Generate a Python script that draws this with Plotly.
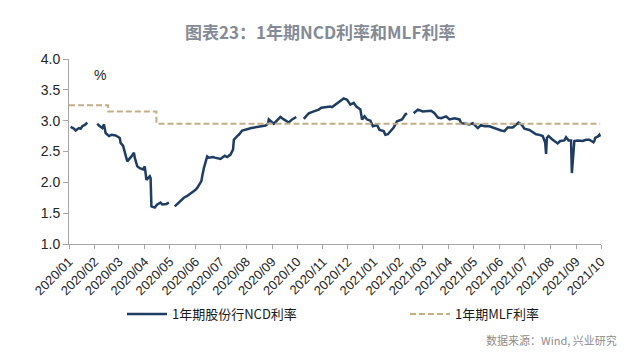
import plotly.graph_objects as go

# ---------------- data ----------------
ncd_dates = [
    "2020-01-03", "2020-01-07", "2020-01-09", "2020-01-13", "2020-01-15", "2020-01-17", "2020-01-20",
    "2020-01-21", "2020-01-23", "2020-01-28",
    "2020-02-04", "2020-02-06", "2020-02-10", "2020-02-12", "2020-02-14", "2020-02-18", "2020-02-21",
    "2020-02-26", "2020-03-02", "2020-03-03", "2020-03-06", "2020-03-09", "2020-03-11", "2020-03-16",
    "2020-03-19", "2020-03-20", "2020-03-23", "2020-03-26", "2020-03-30", "2020-04-01", "2020-04-03",
    "2020-04-07", "2020-04-08", "2020-04-09", "2020-04-13", "2020-04-16", "2020-04-20", "2020-04-22",
    "2020-04-27", "2020-04-30", "2020-05-03",
    "2020-05-07", "2020-05-13", "2020-05-18", "2020-05-22", "2020-05-25", "2020-05-28", "2020-06-01",
    "2020-06-03", "2020-06-05", "2020-06-08", "2020-06-09", "2020-06-11", "2020-06-15", "2020-06-17",
    "2020-06-22", "2020-06-24", "2020-07-01", "2020-07-06", "2020-07-09", "2020-07-13", "2020-07-16",
    "2020-07-17", "2020-07-21", "2020-07-23", "2020-07-27", "2020-07-31", "2020-08-04", "2020-08-07",
    "2020-08-14", "2020-08-20", "2020-08-24", "2020-08-27", "2020-08-28", "2020-09-03", "2020-09-07",
    "2020-09-11", "2020-09-15", "2020-09-21", "2020-09-25", "2020-09-30", "2020-10-04",
    "2020-10-09", "2020-10-15", "2020-10-21", "2020-10-27", "2020-10-30", "2020-11-05", "2020-11-10",
    "2020-11-12", "2020-11-16", "2020-11-20", "2020-11-26", "2020-11-30", "2020-12-04", "2020-12-08",
    "2020-12-11", "2020-12-16", "2020-12-18", "2020-12-21", "2020-12-24", "2020-12-28", "2020-12-31",
    "2021-01-05", "2021-01-08", "2021-01-13", "2021-01-15", "2021-01-18", "2021-01-21", "2021-01-25",
    "2021-01-29", "2021-02-04", "2021-02-08", "2021-02-10", "2021-02-14",
    "2021-02-18", "2021-02-23", "2021-03-01", "2021-03-05", "2021-03-11", "2021-03-15", "2021-03-19",
    "2021-03-23", "2021-03-29", "2021-04-02", "2021-04-08", "2021-04-14", "2021-04-16", "2021-04-22",
    "2021-04-26", "2021-04-30", "2021-05-06", "2021-05-10", "2021-05-14", "2021-05-20", "2021-05-26",
    "2021-05-31", "2021-06-03", "2021-06-07", "2021-06-11", "2021-06-17", "2021-06-21", "2021-06-24",
    "2021-06-28", "2021-07-01", "2021-07-07", "2021-07-12", "2021-07-15", "2021-07-19", "2021-07-23",
    "2021-07-26", "2021-07-27", "2021-07-28", "2021-07-30", "2021-08-04", "2021-08-10", "2021-08-13",
    "2021-08-18", "2021-08-20", "2021-08-23", "2021-08-26", "2021-08-27", "2021-08-30", "2021-09-03",
    "2021-09-09", "2021-09-13", "2021-09-17", "2021-09-22", "2021-09-23", "2021-09-24", "2021-09-27",
    "2021-09-29", "2021-09-30",
]
ncd_values = [
    2.90, 2.87, 2.84, 2.88, 2.87, 2.91, 2.93,
    2.94, 2.97, None,
    2.95, 2.92, 2.88, 2.94, 2.80, 2.75, 2.77,
    2.76, 2.72, 2.64, 2.59, 2.45, 2.34, 2.42,
    2.48, 2.40, 2.26, 2.23, 2.21, 2.26, 2.04,
    2.10, 2.07, 1.61, 1.59, 1.64, 1.67, 1.64,
    1.65, 1.67, None,
    1.61, 1.69, 1.75, 1.78, 1.81, 1.83, 1.88,
    1.91, 1.95, 2.02, 2.10, 2.23, 2.42, 2.40,
    2.41, 2.40, 2.38, 2.43, 2.41, 2.45, 2.53,
    2.69, 2.75, 2.77, 2.84, 2.85, 2.87, 2.88,
    2.90, 2.91, 2.92, 2.95, 3.02, 2.95, 3.00,
    3.06, 3.02, 2.97, 3.02, 3.06, None,
    3.03, 3.12, 3.15, 3.18, 3.21, 3.22, 3.23,
    3.22, 3.26, 3.29, 3.36, 3.34, 3.26, 3.29,
    3.23, 3.18, 3.02, 3.07, 3.02, 3.00, 2.91,
    2.93, 2.85, 2.83, 2.77, 2.78, 2.83, 2.89,
    2.99, 3.02, 3.10, 3.12, None,
    3.12, 3.18, 3.15, 3.15, 3.16, 3.12, 3.05,
    3.04, 3.07, 3.02, 3.04, 3.02, 2.96, 2.95,
    2.94, 2.96, 2.88, 2.93, 2.91, 2.91, 2.88,
    2.85, 2.84, 2.83, 2.89, 2.89, 2.93, 2.97,
    2.93, 2.87, 2.85, 2.80, 2.78, 2.77, 2.75,
    2.64, 2.46, 2.72, 2.75, 2.69, 2.63, 2.67,
    2.68, 2.73, 2.68, 2.68, 2.15, 2.67, 2.68,
    2.67, 2.69, 2.69, 2.65, 2.67, 2.72, 2.74,
    2.77, 2.74,
]

mlf_dates = ["2020-01-01", "2020-02-17", "2020-04-15", "2021-09-30"]
mlf_values = [3.25, 3.15, 2.95, 2.95]

tick_dates = [f"{y}-{m:02d}-01" for y, m in
              [(2020, m) for m in range(1, 13)] + [(2021, m) for m in range(1, 11)]]
tick_labels = [f"{d[:4]}/{d[5:7]}" for d in tick_dates]

y_ticks = [1.0, 1.5, 2.0, 2.5, 3.0, 3.5, 4.0]

title_text = "图表23：1年期NCD利率和MLF利率"
ncd_name = "1年期股份行NCD利率"
mlf_name = "1年期MLF利率"
source_text = "数据来源：Wind, 兴业研究"

# ---------------- figure ----------------
PL, PR, PT, PB = 69, 601, 59, 244   # plot area in pixels
PW, PH = PR - PL, PB - PT

fig = go.Figure()
fig.add_trace(go.Scatter(
    x=ncd_dates, y=ncd_values, name=ncd_name, mode="lines",
    line=dict(color="#1f3d63", width=2.5), connectgaps=False, legend="legend",
))
fig.add_trace(go.Scatter(
    x=mlf_dates, y=mlf_values, name=mlf_name, mode="lines",
    line=dict(color="#c4ae88", width=2, dash="6px,3px", shape="hv"), legend="legend2",
))

legend_font = dict(size=13, family="Noto Sans CJK SC", color="#1a1a1a")
axis_col = "#a6a6a6"
fig.update_layout(
    width=640, height=352,
    margin=dict(l=PL, r=640 - PR, t=PT, b=352 - PB, autoexpand=False),
    paper_bgcolor="white", plot_bgcolor="white",
    font=dict(family="Liberation Sans, Noto Sans CJK SC", color="#262626"),
    showlegend=True,
    legend=dict(
        orientation="h", x=(122 - PL) / PW, y=(PB - 299) / PH, xanchor="left", yanchor="top",
        font=legend_font, itemwidth=40, bgcolor="rgba(0,0,0,0)",
    ),
    legend2=dict(
        orientation="h", x=(405 - PL) / PW, y=(PB - 299) / PH, xanchor="left", yanchor="top",
        font=legend_font, itemwidth=40, bgcolor="rgba(0,0,0,0)",
    ),
    xaxis=dict(
        type="date", range=["2020-01-01", "2021-10-01"], automargin=False,
        tickvals=tick_dates, ticktext=tick_labels, tickangle=-45,
        tickfont=dict(size=13, family="Liberation Sans", color="#262626"),
        showline=True, linecolor=axis_col, linewidth=1,
        ticks="outside", ticklen=4, tickcolor=axis_col,
        showgrid=False, zeroline=False,
    ),
    yaxis=dict(
        range=[1.0, 4.0], tickvals=y_ticks, tickformat=".1f", automargin=False,
        tickfont=dict(size=14, family="Liberation Sans", color="#262626"),
        showline=True, linecolor=axis_col, linewidth=1,
        ticks="outside", ticklen=5, tickcolor=axis_col,
        showgrid=False, zeroline=False,
    ),
)

fig.add_annotation(
    text="<b>" + title_text + "</b>", xref="paper", yref="paper",
    x=(320 - PL) / PW, y=(PB - 31) / PH,
    xanchor="center", yanchor="middle", showarrow=False,
    font=dict(size=17, family="Noto Sans CJK SC", color="#858b96"),
)
fig.add_annotation(
    text="%", xref="paper", yref="paper", x=(100 - PL) / PW, y=(PB - 75) / PH,
    xanchor="center", yanchor="middle", showarrow=False,
    font=dict(size=14, family="Liberation Sans", color="#262626"),
)
fig.add_annotation(
    text=source_text, xref="paper", yref="paper", x=(619 - PL) / PW, y=(PB - 340) / PH,
    xanchor="right", yanchor="middle", showarrow=False,
    font=dict(size=11, family="Noto Sans CJK SC", color="#8c8c8c"),
)

fig.write_html("out.html")
